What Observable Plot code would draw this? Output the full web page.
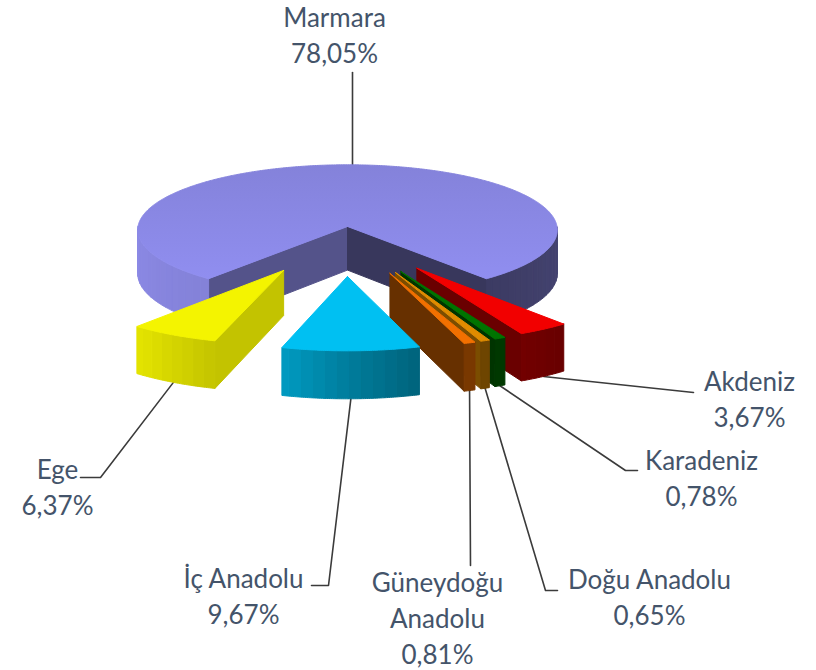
<!DOCTYPE html>
<html>
<head>
<meta charset="utf-8">
<script src="https://cdn.jsdelivr.net/npm/d3@7"></script>
<script src="https://cdn.jsdelivr.net/npm/@observablehq/plot@0.6"></script>
<style>html,body{margin:0;padding:0;background:#fff}svg{display:block}</style>
</head>
<body>
<div id="chart"></div>
<script>
// Data
const regions = ["Marmara","Akdeniz","Karadeniz","Doğu Anadolu","Güneydoğu Anadolu","İç Anadolu","Ege"];
const shares  = [78.05, 3.67, 0.78, 0.65, 0.81, 9.67, 6.37];

// Styles (per region)
const topColors = ["url(#marmaraTop)","#f20000","#007400","#e08c00","#f27000","#00c0f2","#f4f400"];
const baseColors = ["#8c8ae6","#f00000","#007400","#e08c00","#f07000","#00c0f0","#f4f400"];
const wallLeft  = [0.60, 0.8, 0.8, 0.8, 0.8, 0.8, 0.80];
const wallRight = [0.40, 0.44, 0.45, 0.55, 0.43, 0.43, 0.43];
const explode   = [0, 155, 155, 155, 155, 155, 155];
const shade = d3.scaleLinear().domain([90,140,160,180,196,220,270]).range([0.5,0.43,0.5,0.65,0.8,0.94,1]);

// Label layout (separate from data)
const labelLayout = [
  {x:334, y:33,  text:"Marmara", elbow:[352,72]},
  {x:749, y:397, text:"Akdeniz", elbow:[693,392]},
  {x:701, y:476, text:"Karadeniz", elbow:[625,470], end:[637,470]},
  {x:649, y:595, text:"Doğu Anadolu", elbow:[545,590], end:[557,590]},
  {x:437, y:616, text:"Güneydoğu\nAnadolu", elbow:[470,565]},
  {x:243, y:594, text:"İç Anadolu", elbow:[328,585], end:[311,585]},
  {x:57,  y:485, text:"Ege", elbow:[100,477], end:[80,477]}
];
const pctText = v => v.toFixed(2).replace(".", ",") + "%";

// Projection of the 3-D pie
const cx = 347, cy = 226, R = 209.5, D = 4000, tilt = 0.31, H = 43.6, sideways = 0.82, explodedShift = -2;
const rad = d => d * Math.PI / 180;
function project(theta, r, bis, E, lower) {
  const X = r * Math.sin(rad(theta)) + E * sideways * Math.sin(rad(bis));
  const Y = -r * Math.cos(rad(theta)) - E * Math.cos(rad(bis));
  const s = 1 / (1 - Y / D);
  return [cx + (E ? explodedShift : 0) + X * s, cy + Y * tilt * s + (lower ? H * s : 0)];
}

// Slices: Marmara centred on the back, the others following clockwise
const gapStart = 180 - shares.slice(1).reduce((a,b)=>a+b,0) * 3.6 / 2;
let cursor = gapStart - shares[0] * 3.6;
const slices = regions.map((name,i) => {
  const t0 = cursor, t1 = cursor + shares[i] * 3.6;
  cursor = t1;
  return {name, i, t0, t1, bis:(t0+t1)/2, E:explode[i]};
});

const pieces = [];
let pid = 0;
function poly(points, fill) {
  const z = pid++;
  [...points, points[0]].forEach(p => pieces.push({z, x:p[0], y:p[1], fill}));
}
const mix = (c,f) => d3.interpolateRgb("black", c)(f);
function drawSlice(sl) {
  const {t0,t1,bis,E,i} = sl;
  const top = (t,r=R) => project(t,r,bis,E,false);
  const low = (t,r=R) => project(t,r,bis,E,true);
  const apex = top(0,0), apexLow = low(0,0);
  if (top(t0)[0] < apex[0]) poly([apex, top(t0), low(t0), apexLow], mix(baseColors[i], wallLeft[i]));
  if (top(t1)[0] > apex[0]) poly([apex, top(t1), low(t1), apexLow], mix(baseColors[i], wallRight[i]));
  // outer wall in coarse bands, front part only, shaded by direction
  const a = d3.range(t0, t1, 3).concat([t1]);
  for (let k=0; k<a.length-1; k++) {
    const m = ((a[k]+a[k+1])/2 % 360 + 360) % 360;
    if (m>=90 && m<=270) {
      const sub = d3.range(a[k], a[k+1], 0.5).concat([a[k+1]]);
      poly([...sub.map(t=>top(t)), ...sub.reverse().map(t=>low(t))], mix(baseColors[i], shade(m)));
    }
  }
  poly([apex, ...d3.range(t0, t1, 0.5).concat([t1]).map(t => top(t))], topColors[i]);
}
slices.forEach(drawSlice);

// Leader lines start on the slice they describe
const leaders = [];
labelLayout.forEach((l,i) => {
  const sl = slices[i];
  const start = i === 0 ? project(sl.bis, R, sl.bis, 0, false) : project(sl.bis, R, sl.bis, sl.E, true);
  if (i === 0) start[0] = l.elbow[0];
  [start, l.elbow, l.end].filter(Boolean).forEach(p => leaders.push({name:l.text, x:p[0], y:p[1]}));
});

const labels = labelLayout.map((l,i) => ({x:l.x, y:l.y, text:l.text + "\n" + pctText(shares[i])}));

const defs = () => {
  const d = d3.create("svg:defs");
  const g = d.append("linearGradient").attr("id","marmaraTop").attr("x1",0).attr("y1",0).attr("x2",0).attr("y2",1);
  g.append("stop").attr("offset","0%").attr("stop-color","#8482da");
  g.append("stop").attr("offset","100%").attr("stop-color","#908ef0");
  return d.node();
};

const chart = Plot.plot({
  width:816, height:670, margin:0,
  style:{background:"#fff"},
  x:{domain:[0,816], range:[0,816], axis:null},
  y:{domain:[0,670], range:[0,670], axis:null},
  color:{type:"identity"},
  marks:[
    defs,
    Plot.line(leaders, {x:"x", y:"y", z:"name", stroke:"#3b3b3b", strokeWidth:1.6, curve:"linear"}),
    Plot.line(pieces, {x:"x", y:"y", z:"z", fill:"fill", stroke:"fill", strokeWidth:1, curve:"linear"}),
    Plot.text(labels, {x:"x", y:"y", text:"text", fontFamily:"Lato", fontSize:26, lineHeight:1.38, fill:"#44546a", textAnchor:"middle", lineAnchor:"middle"})
  ]
});
document.getElementById("chart").appendChild(chart);
</script>
</body>
</html>
